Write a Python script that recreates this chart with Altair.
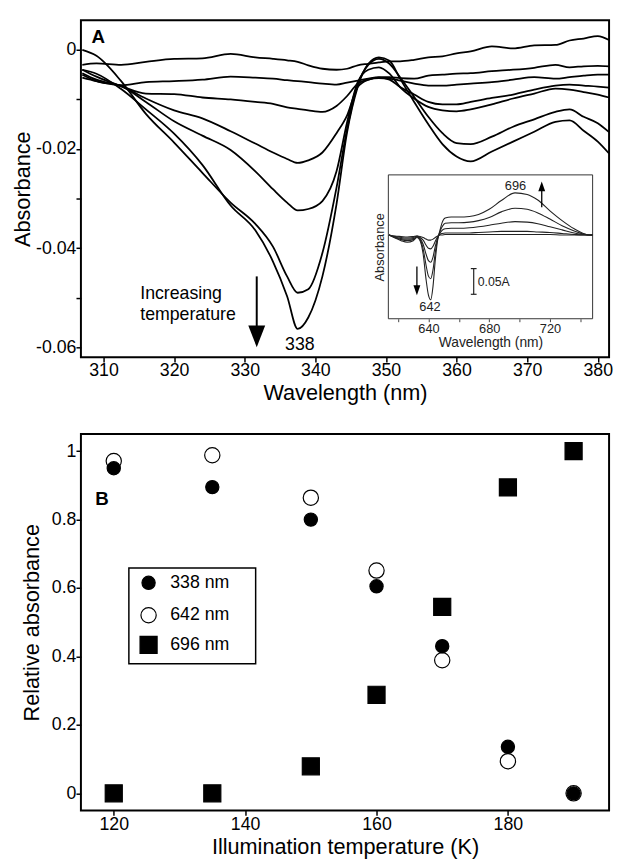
import altair as alt
import pandas as pd

FONT = "Liberation Sans"

# ---------------- Panel A: difference spectra (main) ----------------
wavelength = [307, 309, 312.5, 316, 320, 324, 328, 331.5, 334, 336, 337.5, 339, 341, 343, 344.5,
              346, 347.5, 349, 350.5, 352, 354, 356, 358, 360, 362, 365, 368, 371, 374, 376, 378, 380, 381.6]
curve_1 = [-0.0030, -0.0027, -0.0030, -0.0024, -0.0018, -0.0017, -0.0008, -0.0015, -0.0018, -0.0021, -0.0024,
           -0.0031, -0.0038, -0.0040, -0.0038, -0.0031, -0.0028, -0.0025, -0.0023, -0.0023, -0.0020, -0.0015,
           -0.0013, -0.0007, -0.0003, 0.0007, 0.0003, 0.0009, 0.0010, 0.0019, 0.0023, 0.0028, 0.0020]
curve_2 = [-0.0056, -0.0063, -0.0071, -0.0065, -0.0063, -0.0060, -0.0054, -0.0056, -0.0058, -0.0061, -0.0063,
           -0.0065, -0.0068, -0.0070, -0.0066, -0.0062, -0.0058, -0.0055, -0.0055, -0.0057, -0.0058, -0.0052,
           -0.0050, -0.0048, -0.0047, -0.0043, -0.0040, -0.0036, -0.0030, -0.0035, -0.0033, -0.0032, -0.0033]
curve_3 = [-0.0040, -0.0054, -0.0073, -0.0088, -0.0089, -0.0096, -0.0100, -0.0105, -0.0109, -0.0116, -0.0119,
           -0.0122, -0.0125, -0.0113, -0.0093, -0.0068, -0.0060, -0.0057, -0.0058, -0.0062, -0.0068, -0.0072,
           -0.0072, -0.0070, -0.0068, -0.0065, -0.0060, -0.0055, -0.0058, -0.0055, -0.0052, -0.0050, -0.0050]
curve_4 = [-0.0047, -0.0060, -0.0073, -0.0098, -0.0122, -0.0138, -0.0164, -0.0189, -0.0207, -0.0220, -0.0228,
           -0.0223, -0.0207, -0.0168, -0.0132, -0.0075, -0.0060, -0.0056, -0.0060, -0.0075, -0.0090, -0.0105,
           -0.0110, -0.0110, -0.0105, -0.0097, -0.0090, -0.0080, -0.0072, -0.0070, -0.0072, -0.0074, -0.0076]
curve_5 = [-0.0050, -0.0063, -0.0073, -0.0105, -0.0144, -0.0173, -0.0202, -0.0245, -0.0281, -0.0308, -0.0324,
           -0.0321, -0.0305, -0.0245, -0.0146, -0.0065, -0.0040, -0.0035, -0.0048, -0.0075, -0.0098, -0.0115,
           -0.0122, -0.0124, -0.0120, -0.0110, -0.0098, -0.0088, -0.0078, -0.0080, -0.0085, -0.0090, -0.0096]
curve_6 = [0.0000, -0.0012, -0.0063, -0.0129, -0.0187, -0.0248, -0.0308, -0.0351, -0.0397, -0.0457, -0.0490,
           -0.0483, -0.0410, -0.0278, -0.0159, -0.0070, -0.0030, -0.0018, -0.0028, -0.0055, -0.0095, -0.0135,
           -0.0168, -0.0188, -0.0190, -0.0175, -0.0155, -0.0140, -0.0125, -0.0120, -0.0135, -0.0148, -0.0166]
curve_7 = [-0.0040, -0.0048, -0.0079, -0.0120, -0.0169, -0.0232, -0.0314, -0.0364, -0.0427, -0.0497, -0.0563,
           -0.0540, -0.0457, -0.0311, -0.0166, -0.0075, -0.0028, -0.0015, -0.0022, -0.0058, -0.0105, -0.0150,
           -0.0190, -0.0215, -0.0225, -0.0205, -0.0185, -0.0165, -0.0145, -0.0142, -0.0163, -0.0185, -0.0209]
curves = [curve_1, curve_2, curve_3, curve_4, curve_5, curve_6, curve_7]

# annotations of panel A (data coordinates)
panel_a_label = ["A"]
panel_a_label_pos = [308.3, 0.0026]
increasing_text = ["Increasing", "temperature"]
increasing_wl = [315.2, 315.2]
increasing_a = [-0.0493, -0.0536]
peak_label = ["338"]
peak_label_pos = [337.8, -0.0596]
big_arrow_wl = [331.7]
big_arrow_a = [-0.0457, -0.0560]
big_arrow_head_a = [-0.0578]

# ---------------- Panel A inset ----------------
inset_wavelength = [614, 618, 622, 626, 630, 632.5, 634.5, 636.5, 638.5, 640, 641.5, 643, 644.5, 646, 647.5, 649,
                    651, 655, 660, 667, 673, 680, 688, 697, 705, 712, 720, 728, 736, 742, 746, 748]
inset_1 = [0, -0.006, -0.011, -0.014, -0.011, -0.005, -0.011, -0.037, -0.088, -0.117, -0.126, -0.100, -0.049,
           -0.011, 0.008, 0.024, 0.033, 0.035, 0.035, 0.036, 0.040, 0.050, 0.067, 0.082, 0.079, 0.068, 0.047,
           0.028, 0.012, 0.003, 0.0, 0.0]
inset_2 = [0, -0.005, -0.009, -0.011, -0.009, -0.004, -0.009, -0.027, -0.060, -0.080, -0.085, -0.068, -0.034,
           -0.008, 0.006, 0.016, 0.023, 0.024, 0.024, 0.025, 0.028, 0.034, 0.045, 0.052, 0.050, 0.043, 0.031,
           0.018, 0.008, 0.002, 0.0, 0.0]
inset_3 = [0, -0.004, -0.007, -0.008, -0.007, -0.003, -0.007, -0.018, -0.038, -0.050, -0.053, -0.043, -0.022,
           -0.006, 0.003, 0.009, 0.012, 0.013, 0.013, 0.014, 0.016, 0.019, 0.023, 0.026, 0.025, 0.022, 0.016,
           0.010, 0.004, 0.001, 0.0, 0.0]
inset_4 = [0, -0.003, -0.005, -0.006, -0.005, -0.002, -0.005, -0.010, -0.020, -0.026, -0.027, -0.022, -0.012,
           -0.004, 0.001, 0.003, 0.004, 0.004, 0.004, 0.004, 0.005, 0.006, 0.007, 0.007, 0.007, 0.006, 0.005,
           0.003, 0.001, 0.0, 0.0, 0.0]
inset_5 = [0, -0.002, -0.003, -0.004, -0.003, -0.002, -0.003, -0.005, -0.008, -0.010, -0.010, -0.008, -0.005,
           -0.002, 0.0, 0.0, 0.001, 0.001, 0.001, 0.001, 0.001, 0.001, 0.001, 0.001, 0.001, 0.001, 0.001,
           0.0, 0.0, 0.0, 0.0, 0.0]
inset_curves = [inset_1, inset_2, inset_3, inset_4, inset_5]
inset_x_domain = [613.6, 748.1]
inset_y_domain = [-0.163, 0.117]
inset_labels = ["696", "642"]
inset_labels_wl = [697.3, 641.0]
inset_labels_a = [0.0948, -0.140]
up_arrow = [714.6, 0.054, 0.088, 0.0945]       # x, rule start, rule end, head centre
down_arrow = [632.4, -0.0615, -0.100, -0.1075]
scale_bar = [669.8, -0.0654, -0.1154, 667.9, 671.7]  # x, y top, y bottom, cap x from, cap x to
scale_text = ["0.05A"]
scale_text_pos = [672.4, -0.091]

# ---------------- Panel B ----------------
temperature = [120, 135, 150, 160, 170, 180, 190]
rel_338 = [0.95, 0.895, 0.80, 0.605, 0.43, 0.136, 0.0]
rel_642 = [0.971, 0.988, 0.864, 0.651, 0.389, 0.094, 0.0]
rel_696 = [0.0, 0.0, 0.079, 0.288, 0.545, 0.894, 1.0]
series_names = ["338 nm", "642 nm", "696 nm"]
panel_b_label = ["B"]
panel_b_label_pos = [118.2, 0.86]
legend_box = [122.3, 141.6, 0.379, 0.6585]       # temp from, temp to, rel from, rel to
legend_rows_rel = [0.6153, 0.5203, 0.4339]
legend_symbol_temp = 125.3
legend_text_temp = 128.6

# ---------------- data frames ----------------
dfA = pd.DataFrame([{"wl": w, "a": a, "curve": i}
                    for i, c in enumerate(curves) for w, a in zip(wavelength, c)])
dfI = pd.DataFrame([{"wl": w, "a": a, "curve": i}
                    for i, c in enumerate(inset_curves) for w, a in zip(inset_wavelength, c)])
dfB = pd.DataFrame([{"temp": t, "rel": r, "series": s}
                    for s, vals in [("696 nm", rel_696), ("642 nm", rel_642), ("338 nm", rel_338)]
                    for t, r in zip(temperature, vals)])
dfLeg = pd.DataFrame({"temp": [legend_symbol_temp] * 3, "ttemp": [legend_text_temp] * 3,
                      "rel": legend_rows_rel, "series": series_names})

# ---------------- Panel A encodings ----------------
xA = alt.X("wl:Q", scale=alt.Scale(domain=[306.8, 381.6], nice=False, zero=False),
           axis=alt.Axis(title="Wavelength (nm)", values=[310, 320, 330, 340, 350, 360, 370, 380],
                         format="d", labelPadding=0, titlePadding=3))
yA = alt.Y("a:Q", scale=alt.Scale(domain=[-0.062, 0.006], nice=False, zero=False),
           axis=alt.Axis(title="Absorbance", values=[-0.06, -0.05, -0.04, -0.03, -0.02, -0.01, 0],
                         labelExpr="datum.value == 0 ? '0' : (round(datum.value*100) % 2 == 0 ? '-0.0' + abs(round(datum.value*100)) : '')",
                         labelPadding=0, titlePadding=1))

main_lines = alt.Chart(dfA).mark_line(color="black", strokeWidth=1.8, interpolate="monotone", clip=True).encode(
    x=xA, y=yA, detail="curve:N")

a_label = alt.Chart(pd.DataFrame({"wl": [panel_a_label_pos[0]], "a": [panel_a_label_pos[1]], "t": panel_a_label})).mark_text(
    font=FONT, fontSize=19, fontWeight="bold", align="left", baseline="middle", color="black").encode(x=xA, y=yA, text="t:N")
inc_text = alt.Chart(pd.DataFrame({"wl": increasing_wl, "a": increasing_a, "t": increasing_text})).mark_text(
    font=FONT, fontSize=18, align="left", baseline="middle", color="black").encode(x=xA, y=yA, text="t:N")
peak_text = alt.Chart(pd.DataFrame({"wl": [peak_label_pos[0]], "a": [peak_label_pos[1]], "t": peak_label})).mark_text(
    font=FONT, fontSize=18, align="center", baseline="middle", color="black").encode(x=xA, y=yA, text="t:N")
arrow_rule = alt.Chart(pd.DataFrame({"wl": big_arrow_wl, "a": [big_arrow_a[0]], "a2": [big_arrow_a[1]]})).mark_rule(
    color="black", strokeWidth=2).encode(x=xA, y=yA, y2="a2:Q")
arrow_head = alt.Chart(pd.DataFrame({"wl": big_arrow_wl, "a": big_arrow_head_a})).mark_point(
    shape="M-0.78,-1L0.78,-1L0,1Z", size=484, filled=True, color="black", opacity=1).encode(x=xA, y=yA)

main_layer = alt.layer(main_lines, a_label, inc_text, peak_text, arrow_rule, arrow_head)

# ---------------- Inset encodings ----------------
xI = alt.X("wl:Q", scale=alt.Scale(domain=inset_x_domain, range=[312, 519.3], nice=False, zero=False),
           axis=alt.Axis(title="Wavelength (nm)", orient="bottom", offset=-39, values=[620, 640, 660, 680, 700, 720, 740],
                         labelExpr="(datum.value == 640 || datum.value == 680 || datum.value == 720) ? datum.label : ''",
                         tickSize=3, tickWidth=1, tickColor="#444", labelFontSize=13, titleFontSize=14,
                         labelPadding=1, titlePadding=0, domain=False, grid=False, labelColor="#222", titleColor="#222"))
yI = alt.Y("a:Q", scale=alt.Scale(domain=inset_y_domain, range=[303, 157], nice=False, zero=False),
           axis=alt.Axis(title="Absorbance", orient="left", offset=-312, labels=False, ticks=False, domain=False,
                         grid=False, titleFontSize=13, titlePadding=2, titleColor="#222"))

inset_frame = alt.Chart(pd.DataFrame({"wl": [inset_x_domain[0]], "wl2": [inset_x_domain[1]],
                                      "a": [inset_y_domain[0]], "a2": [inset_y_domain[1]]})).mark_rect(
    fill="white", stroke="#333", strokeWidth=1).encode(x=xI, x2="wl2:Q", y=yI, y2="a2:Q")
inset_lines = alt.Chart(dfI).mark_line(color="#222", strokeWidth=1.1, interpolate="monotone").encode(
    x=xI, y=yI, detail="curve:N")
inset_text = alt.Chart(pd.DataFrame({"wl": inset_labels_wl, "a": inset_labels_a, "t": inset_labels})).mark_text(
    font=FONT, fontSize=13, align="center", baseline="middle", color="#222").encode(x=xI, y=yI, text="t:N")
inset_arrow_rules = alt.Chart(pd.DataFrame({"wl": [up_arrow[0], down_arrow[0]], "a": [up_arrow[1], down_arrow[1]],
                                            "a2": [up_arrow[2], down_arrow[2]]})).mark_rule(
    color="black", strokeWidth=1.3).encode(x=xI, y=yI, y2="a2:Q")
inset_up_head = alt.Chart(pd.DataFrame({"wl": [up_arrow[0]], "a": [up_arrow[3]]})).mark_point(
    shape="M-0.7,1L0.7,1L0,-1Z", size=100, filled=True, color="black", opacity=1).encode(x=xI, y=yI)
inset_down_head = alt.Chart(pd.DataFrame({"wl": [down_arrow[0]], "a": [down_arrow[3]]})).mark_point(
    shape="M-0.7,-1L0.7,-1L0,1Z", size=100, filled=True, color="black", opacity=1).encode(x=xI, y=yI)
bar_rule = alt.Chart(pd.DataFrame({"wl": [scale_bar[0]], "a": [scale_bar[1]], "a2": [scale_bar[2]]})).mark_rule(
    color="#222", strokeWidth=1.2).encode(x=xI, y=yI, y2="a2:Q")
bar_caps = alt.Chart(pd.DataFrame({"wl": [scale_bar[3], scale_bar[3]], "wl2": [scale_bar[4], scale_bar[4]],
                                   "a": [scale_bar[1], scale_bar[2]]})).mark_rule(
    color="#222", strokeWidth=1.2).encode(x=xI, x2="wl2:Q", y=yI)
bar_text = alt.Chart(pd.DataFrame({"wl": [scale_text_pos[0]], "a": [scale_text_pos[1]], "t": scale_text})).mark_text(
    font=FONT, fontSize=12.5, align="left", baseline="middle", color="#222").encode(x=xI, y=yI, text="t:N")

inset_layer = alt.layer(inset_frame, inset_lines, inset_text, inset_arrow_rules, inset_up_head, inset_down_head,
                        bar_rule, bar_caps, bar_text)

panelA = alt.layer(main_layer, inset_layer).resolve_scale(x="independent", y="independent").properties(
    width=536, height=342)

# ---------------- Panel B ----------------
xB_scale = alt.Scale(domain=[115, 195.4], nice=False, zero=False)
xB_axis = alt.Axis(title="Illumination temperature (K)", values=[120, 140, 160, 180], format="d",
                   labelPadding=0, titlePadding=4)
xB = alt.X("temp:Q", scale=xB_scale, axis=xB_axis)
yB = alt.Y("rel:Q", scale=alt.Scale(domain=[-0.05, 1.05], nice=False, zero=False),
           axis=alt.Axis(title="Relative absorbance", values=[0, 0.2, 0.4, 0.6, 0.8, 1], format="~g",
                         labelPadding=0, titlePadding=8))
colorB = alt.Color("series:N", scale=alt.Scale(domain=series_names, range=["black", "white", "black"]), legend=None)
shapeB = alt.Shape("series:N", scale=alt.Scale(domain=series_names, range=["circle", "circle", "square"]), legend=None)
sizeB = alt.Size("series:N", scale=alt.Scale(domain=series_names, range=[180, 300, 220]), legend=None)

points = alt.Chart(dfB).mark_point(filled=True, stroke="black", strokeWidth=1.2, opacity=1).encode(
    x=xB, y=yB, color=colorB, shape=shapeB, size=sizeB)
legend_frame = alt.Chart(pd.DataFrame({"temp": [legend_box[0]], "temp2": [legend_box[1]],
                                       "rel": [legend_box[2]], "rel2": [legend_box[3]]})).mark_rect(
    fill="white", stroke="black", strokeWidth=1.5).encode(x=xB, x2="temp2:Q", y=yB, y2="rel2:Q")
legend_points = alt.Chart(dfLeg).mark_point(filled=True, stroke="black", strokeWidth=1.2, opacity=1).encode(
    x=xB, y=yB, color=colorB, shape=shapeB, size=sizeB)
legend_text = alt.Chart(dfLeg).mark_text(font=FONT, fontSize=18, align="left", baseline="middle", color="black").encode(
    x=alt.X("ttemp:Q", scale=xB_scale, axis=xB_axis), y=yB, text="series:N")
b_label = alt.Chart(pd.DataFrame({"temp": [panel_b_label_pos[0]], "rel": [panel_b_label_pos[1]], "t": panel_b_label})).mark_text(
    font=FONT, fontSize=19, fontWeight="bold", align="center", baseline="middle", color="black").encode(x=xB, y=yB, text="t:N")

panelB = alt.layer(points, legend_frame, legend_points, legend_text, b_label).properties(width=536, height=382)

chart = alt.vconcat(panelA, panelB, spacing=29).properties(
    padding={"left": 2, "top": 5, "right": 0, "bottom": 0}
).configure_view(stroke="black", strokeWidth=2).configure_axis(
    labelFont=FONT, titleFont=FONT, labelFontSize=18, titleFontSize=22, titleFontWeight="normal",
    labelColor="black", titleColor="black", tickColor="black", tickSize=5, tickWidth=1.5,
    domain=False, grid=False
)

chart.save("out.html", embed_options={"renderer": "svg", "actions": False})
